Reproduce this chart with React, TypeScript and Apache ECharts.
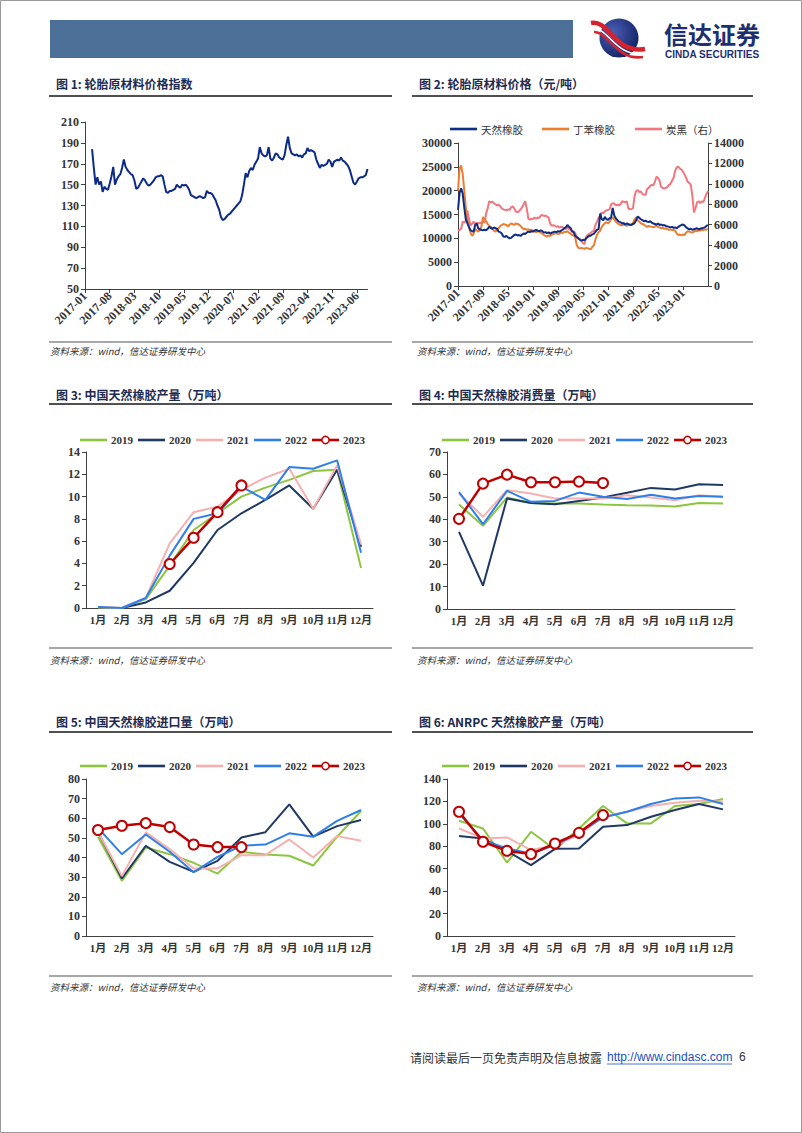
import React, { useEffect, useRef } from "react";
import * as echarts from "echarts";

// ---------- Data ----------
const monthLabels = ["1月", "2月", "3月", "4月", "5月", "6月", "7月", "8月", "9月", "10月", "11月", "12月"];
const years = ["2019", "2020", "2021", "2022", "2023"];
const priceNames = ["天然橡胶", "丁苯橡胶", "炭黑（右）"];

// Chart 1: tyre raw material price index, semi-monthly, from 2017-03 to 2023-09
const tireIndexStartSlot = 4;
const tireIndex = [
  184, 166, 150, 157, 150, 153, 143, 148, 146, 145,
  151, 158, 167, 150, 155, 158, 160, 166, 174, 167,
  164, 162, 160, 159, 154, 146, 147, 150, 153, 156,
  154, 151, 149, 150, 152, 154, 157, 158, 158, 159,
  158, 150, 143, 142, 144, 144, 145, 146, 150, 148,
  147, 150, 149, 150, 148, 145, 140, 139, 138, 137,
  138, 139, 138, 137, 138, 144, 142, 142, 141, 138,
  135, 130, 126, 119, 116, 117, 119, 121, 122, 124,
  126, 128, 130, 132, 134, 140, 150, 161, 157, 163,
  166, 164, 169, 172, 175, 186, 180, 178, 177, 178,
  186, 175, 173, 176, 180, 179, 176, 175, 174, 178,
  188, 196, 185, 180, 179, 178, 179, 177, 178, 176,
  179, 180, 185, 182, 183, 182, 181, 174, 170, 166,
  169, 168, 169, 170, 174, 172, 167, 172, 173, 174,
  173, 176, 173, 172, 170, 168, 164, 158, 152, 150,
  153, 156, 157, 157, 158, 159, 165,
];

// Chart 2: prices (yuan/ton), semi-monthly from 2017-01 to 2023-09
const naturalRubber = [
  16000, 19500, 20500, 19400, 16500, 14000, 13200, 12400, 11700, 11500,
  11400, 12800, 13100, 12100, 11900, 11750, 11700, 11800, 11700, 12000,
  12400, 12200, 12000, 12300, 12100, 12000, 11400, 11300, 11000, 10400,
  10300, 10500, 10200, 10000, 10100, 10400, 10700, 10800, 10600, 10700,
  10500, 10800, 11000, 10900, 11200, 11400, 11300, 11500, 11400, 11600,
  11750, 11600, 11500, 11700, 11500, 11200, 11300, 11100, 11250, 11000,
  11200, 11300, 11400, 11300, 11500, 11400, 11600, 11800, 12100, 12300,
  12800, 12400, 12200, 11500, 11300, 10500, 10300, 10000, 9700, 9500,
  9700, 9600, 10000, 10300, 10500, 10600, 10800, 11000, 11400, 11800,
  12000, 15200, 14000, 13800, 14500, 14000, 13900, 14200, 14400, 16400,
  14800, 14200, 13800, 13500, 13400, 13100, 13200, 12900, 13100, 13000,
  12800, 12900, 13000, 13200, 13800, 14600, 14300, 14000, 13800, 13600,
  13700, 13500, 13400, 13600, 13300, 13100, 13000, 12900, 13100, 12800,
  12900, 12700, 12800, 12600, 12500, 12400, 12300, 12400, 12200, 12300,
  12100, 12400, 12600, 12800, 12900, 12700, 12300, 12100, 11900, 12000,
  11800, 11900, 12000, 12100, 11900, 12000, 12100, 12200, 12300, 12600,
  12800,
];
const styreneButadiene = [
  20000, 24700, 25300, 23500, 20000, 16500, 14000, 12400, 11200, 10500,
  11000, 12000, 11600, 11400, 11800, 12500, 14500, 13900, 13600, 13000,
  12600, 12400, 12000, 11600, 11400, 11800, 12100, 12600, 12800, 13000,
  12900, 12800, 12500, 12900, 13100, 13000, 12800, 13100, 13000, 12900,
  12600, 12200, 11900, 12000, 11800, 11900, 11700, 11800, 11600, 11400,
  11300, 11500, 11400, 11200, 11000, 10700, 10500, 10400, 10600, 10500,
  10800, 10900, 11000, 11100, 10900, 11000, 11200, 11100, 11400, 11300,
  11500, 11200, 11000, 10700, 10600, 10200, 8600, 8000, 7900, 8000,
  7900, 7800, 8000, 7900, 7800, 7700, 8200, 8600, 9800, 10800,
  11300, 11600, 12400, 12800, 13200, 13400, 13100, 13500, 14000, 14400,
  14000, 13500, 13200, 13000, 12800, 12700, 12900, 12800, 12600, 12800,
  12900, 12700, 13200, 14000, 14300, 13800, 13500, 13200, 13000, 12900,
  12600, 12400, 12600, 12500, 12400, 12300, 12500, 12600, 12400, 12300,
  12100, 12200, 12000, 12100, 11900, 11800, 11900, 11700, 11800, 11600,
  11000, 10700, 10800, 10600, 10800, 10700, 11200, 11500, 11400, 11300,
  11200, 11400, 11600, 11500, 11700, 11600, 11800, 11700, 11900, 11800,
  12000,
];
const carbonBlack = [
  5400, 5500, 5600, 6300, 6200, 6400, 7400, 6600, 5900, 6100,
  6300, 6000, 6200, 6100, 6200, 6100, 6300, 6200, 7100, 7600,
  8300, 8200, 8250, 8100, 8000, 7900, 7950, 7800, 7600, 7500,
  7450, 7400, 7500, 7450, 7700, 7800, 7600, 7300, 7250, 7300,
  7500, 7700, 8000, 8300, 7600, 6600, 6500, 6600, 6550, 6700,
  6600, 6700, 6650, 6900, 6950, 6850, 6900, 6800, 6700, 6100,
  5900, 5950, 5900, 5800, 5850, 5700, 5800, 5750, 5650, 5600,
  5700, 5600, 5500, 5300, 5350, 5200, 4700, 4650, 4600, 4400,
  4200, 4100, 4800, 5000, 5100, 5200, 5350, 5400, 6000, 6300,
  6700, 6900, 7200, 7100, 7300, 7400, 7450, 7500, 8000, 8100,
  8050, 7900, 7950, 7900, 8000, 8300, 8250, 8200, 8300, 7600,
  7500, 7550, 7600, 8800, 9300, 9400, 9200, 9250, 9000, 8950,
  8900, 9500, 9600, 9800, 9900, 9850, 10200, 10700, 10600, 10300,
  9700, 9600, 9550, 9600, 9700, 9900, 10000, 10300, 10600, 11300,
  11600, 11700, 11500, 11400, 11200, 10900, 10600, 10200, 10100, 9900,
  8800, 7200, 7600, 8200, 8300, 8100, 8300, 8200, 8600, 9000,
  9300,
];

// Chart 3: China natural rubber production (10k t)
const prod2019 = [0.05, 0, 0.8, 3.8, 7.0, 8.5, 10.0, 10.8, 11.5, 12.3, 12.4, 3.6];
const prod2020 = [null, 0, 0.5, 1.55, 4.05, 7.0, 8.5, 9.7, 11.0, 8.9, 12.4, 5.5];
const prod2021 = [0.1, 0, 0.9, 5.8, 8.6, 9.1, 10.6, 11.7, 12.5, 8.9, 12.8, 5.7];
const prod2022 = [0.1, 0, 0.9, 4.7, 8.0, 8.5, 10.9, 9.7, 12.65, 12.5, 13.25, 4.95];
const prod2023 = [null, null, null, 3.95, 6.3, 8.6, 11.0];

// Chart 4: China natural rubber consumption (10k t)
const cons2019 = [46.6, 37.1, 49.7, 47.3, 47.0, 47.0, 46.6, 46.3, 46.1, 45.7, 47.3, 47.0];
const cons2020 = [34.4, 10.4, 49.3, 47.3, 46.7, 48.2, 49.7, 51.8, 54.0, 53.3, 55.6, 55.3];
const cons2021 = [51.5, 41.1, 53.0, 51.5, 49.3, 49.3, 49.3, 50.7, 49.7, 48.5, 50.7, 50.0];
const cons2022 = [52.1, 37.8, 52.7, 47.8, 48.2, 51.9, 50.0, 49.0, 50.9, 49.3, 50.4, 50.1];
const cons2023 = [40.2, 55.9, 59.9, 56.5, 56.5, 56.8, 56.2];

// Chart 5: China natural rubber imports (10k t)
const imp2019 = [50.6, 28.1, 45.1, 41.7, 37.3, 31.8, 42.9, 41.5, 40.9, 35.9, 50.6, 63.7];
const imp2020 = [53.1, 29.3, 46.0, 37.8, 32.7, 38.3, 50.2, 52.9, 67.1, 50.6, 56.0, 59.1];
const imp2021 = [53.1, 30.5, 52.8, 44.3, 34.4, 34.4, 41.2, 41.2, 49.2, 40.0, 50.9, 48.5];
const imp2022 = [55.1, 41.7, 51.7, 42.9, 32.5, 40.3, 46.0, 46.6, 52.3, 50.6, 58.7, 64.2];
const imp2023 = [54.0, 56.2, 57.5, 55.5, 46.6, 45.3, 45.3];

// Chart 6: ANRPC natural rubber production (10k t)
const anrpc2019 = [102.8, 95.9, 65.5, 92.9, 77.1, 95.9, 115.9, 100.4, 100.4, 115.9, 117.7, 122.1];
const anrpc2020 = [89.1, 87.0, 75.7, 63.2, 77.7, 78.0, 97.4, 98.9, 106.3, 112.3, 117.7, 112.9];
const anrpc2021 = [95.9, 87.0, 87.9, 76.6, 81.0, 90.0, 106.3, 110.8, 115.9, 118.9, 120.6, 119.8];
const anrpc2022 = [109.3, 85.5, 78.0, 73.6, 81.0, 92.0, 105.7, 110.8, 117.7, 122.7, 123.6, 117.7];
const anrpc2023 = [110.8, 84.0, 76.0, 73.0, 82.5, 92.0, 107.8];

const titles = [
  "图 1: 轮胎原材料价格指数",
  "图 2: 轮胎原材料价格（元/吨）",
  "图 3: 中国天然橡胶产量（万吨）",
  "图 4: 中国天然橡胶消费量（万吨）",
  "图 5: 中国天然橡胶进口量（万吨）",
  "图 6: ANRPC 天然橡胶产量（万吨）",
];
const sourceText = "资料来源：wind，信达证券研发中心";

// ---------- Styling ----------
const serif = '"Liberation Serif", "Noto Sans CJK SC", serif';
const cjk = '"Noto Sans CJK SC", sans-serif';
const axisColor = "#404040";
const labelColor = "#333333";
const yearColors = ["#8cc63f", "#1f3864", "#f6b0b0", "#2f7fe8", "#c00000"];
const priceColors = ["#0e2d84", "#ed7d31", "#f3767f"];

// half-month slots from 2017-01-01 to 2023-09-01
const halfMonthSlots: string[] = [];
for (let y = 2017; y <= 2023; y++) {
  for (let m = 1; m <= 12; m++) {
    const mm = m < 10 ? "0" + m : "" + m;
    halfMonthSlots.push(`${y}-${mm}-01`);
    halfMonthSlots.push(`${y}-${mm}-16`);
  }
}
const slots = halfMonthSlots.slice(0, 161);

const tickFont = (size: number) => ({
  fontFamily: serif,
  fontWeight: "bold" as const,
  fontSize: size,
  color: labelColor,
});

function dateAxis(gi: number, every: number, hideLast: boolean) {
  const label: any = {
    interval: every - 1,
    rotate: 45,
    margin: 5,
    formatter: (v: string) => v.slice(0, 7),
    ...tickFont(12),
  };
  if (hideLast) label.showMaxLabel = false;
  return {
    type: "category",
    gridIndex: gi,
    data: slots,
    boundaryGap: false,
    axisLine: { lineStyle: { color: axisColor, width: 1 } },
    axisTick: { interval: every - 1, length: 4, lineStyle: { color: axisColor } },
    axisLabel: label,
  };
}

function valueAxis(gi: number, min: number, max: number, interval: number, size: number, pos?: string) {
  return {
    type: "value",
    gridIndex: gi,
    min,
    max,
    interval,
    position: pos || "left",
    splitLine: { show: false },
    axisLine: { show: true, lineStyle: { color: axisColor, width: 1 } },
    axisTick: { show: true, length: 4, lineStyle: { color: axisColor } },
    axisLabel: { margin: 6, formatter: (v: number) => String(v), ...tickFont(size) },
  };
}

function monthAxis(gi: number) {
  return {
    type: "category",
    gridIndex: gi,
    data: monthLabels,
    boundaryGap: true,
    axisLine: { lineStyle: { color: axisColor, width: 1 } },
    axisTick: { length: 4, lineStyle: { color: axisColor } },
    axisLabel: { interval: 0, margin: 6, ...tickFont(11) },
  };
}

function yearLines(xi: number, yi: number, sets: (number | null)[][]) {
  return sets.map((d, i) => ({
    type: "line",
    name: years[i],
    xAxisIndex: xi,
    yAxisIndex: yi,
    data: d,
    symbol: i === 4 ? "emptyCircle" : "none",
    showSymbol: i === 4,
    symbolSize: 10,
    lineStyle: { color: yearColors[i], width: i === 4 ? 2.5 : 2 },
    itemStyle: { color: yearColors[i], borderWidth: 1.5 },
    z: 2 + i,
  }));
}

function txt(text: string, x: number, y: number, font: string, fill: string, extra: any = {}) {
  return {
    type: "text",
    x,
    y,
    silent: true,
    style: {
      text,
      font,
      fill,
      textAlign: "left",
      align: "left",
      textVerticalAlign: "middle",
      verticalAlign: "middle",
      ...extra,
    },
  };
}

function hline(x1: number, x2: number, y: number, color: string, w: number) {
  return {
    type: "line",
    silent: true,
    shape: { x1, y1: y, x2, y2: y },
    style: { stroke: color, lineWidth: w },
  };
}

function legendItem(x: number, y: number, color: string, label: string, circle: boolean, font: string) {
  const els: any[] = [
    {
      type: "line",
      silent: true,
      shape: { x1: x, y1: y, x2: x + 27, y2: y },
      style: { stroke: color, lineWidth: 2.6 },
    },
  ];
  if (circle) {
    els.push({
      type: "circle",
      silent: true,
      shape: { cx: x + 13.5, cy: y, r: 3.6 },
      style: { fill: "#ffffff", stroke: color, lineWidth: 1.5 },
    });
  }
  els.push(txt(label, x + 31, y, font, labelColor));
  return els;
}

function yearLegend(x0: number, y: number) {
  const out: any[] = [];
  years.forEach((yr, i) => {
    out.push(...legendItem(x0 + i * 58, y, yearColors[i], yr, i === 4, `bold 11px ${serif}`));
  });
  return out;
}

const leftX = 56;
const rightX = 419;
const titleRows = [83, 394, 721];
const topLines = [96, 404, 732];
const bottomLines = [342, 648, 976];
const sourceRows = [351, 660, 987];

const graphics: any[] = [
  {
    type: "rect",
    silent: true,
    shape: { x: 0.5, y: 0.5, width: 801, height: 1132 },
    style: { fill: "none", stroke: "#9a9a9a", lineWidth: 1 },
  },
  {
    type: "rect",
    silent: true,
    shape: { x: 50, y: 20, width: 523, height: 38 },
    style: { fill: "#4b6f97" },
  },
  // logo emblem
  {
    type: "circle",
    silent: true,
    shape: { cx: 619, cy: 38, r: 19.5 },
    style: {
      fill: new echarts.graphic.RadialGradient(0.35, 0.35, 0.8, [
        { offset: 0, color: "#4a5fb5" },
        { offset: 1, color: "#0c1a5c" },
      ]),
    },
  },
  {
    type: "bezierCurve",
    silent: true,
    shape: { x1: 591, y1: 23, cpx1: 609, cpy1: 19, cpx2: 614, cpy2: 54, x2: 645, y2: 49 },
    style: { stroke: "#d8232f", lineWidth: 4.5, fill: "none" },
  },
  {
    type: "bezierCurve",
    silent: true,
    shape: { x1: 592, y1: 28.5, cpx1: 608, cpy1: 26, cpx2: 615, cpy2: 58, x2: 645, y2: 53.5 },
    style: { stroke: "#ffffff", lineWidth: 1.5, fill: "none" },
  },
  {
    type: "bezierCurve",
    silent: true,
    shape: { x1: 594, y1: 32, cpx1: 608, cpy1: 31, cpx2: 616, cpy2: 61, x2: 643, y2: 57 },
    style: { stroke: "#d8232f", lineWidth: 2.6, fill: "none" },
  },
  txt("信达证券", 664, 33, `bold 24px ${cjk}`, "#1d2f6f"),
  txt("CINDA SECURITIES", 665, 54.5, `bold 10px "Liberation Sans", Arial, sans-serif`, "#1d2f6f"),
  // footer
  txt("请阅读最后一页免责声明及信息披露", 410, 1057, `12px ${cjk}`, "#333333"),
  txt("http://www.cindasc.com", 607, 1057, `12px "Liberation Sans", Arial, sans-serif`, "#1a4fc0"),
  hline(607, 732, 1064, "#1a4fc0", 0.8),
  txt("6", 739, 1057, `12px "Liberation Sans", Arial, sans-serif`, "#333333"),
];

titleRows.forEach((y, r) => {
  graphics.push(txt(titles[r * 2], leftX, y, `bold 12px ${cjk}`, "#1e2b4f"));
  graphics.push(txt(titles[r * 2 + 1], rightX, y, `bold 12px ${cjk}`, "#1e2b4f"));
});
topLines.forEach((y) => {
  graphics.push(hline(49, 392, y, "#505050", 2));
  graphics.push(hline(412, 753, y, "#505050", 2));
});
bottomLines.forEach((y) => {
  graphics.push(hline(49, 392, y, "#8a8a8a", 1.5));
  graphics.push(hline(412, 753, y, "#8a8a8a", 1.5));
});
sourceRows.forEach((y) => {
  graphics.push(txt(sourceText, 50, y, `italic 9.5px ${cjk}`, "#333333"));
  graphics.push(txt(sourceText, 417, y, `italic 9.5px ${cjk}`, "#333333"));
});

// chart 2 legend
const priceLegendX = [450, 542, 635];
priceNames.forEach((n, i) => {
  graphics.push(...legendItem(priceLegendX[i], 129, priceColors[i], n, false, `10.5px ${cjk}`));
});
// year legends
graphics.push(...yearLegend(80, 440));
graphics.push(...yearLegend(442, 440));
graphics.push(...yearLegend(80, 766));
graphics.push(...yearLegend(442, 766));

const tireData = (Array(tireIndexStartSlot).fill(null) as (number | null)[]).concat(tireIndex);

const option: any = {
  animation: false,
  backgroundColor: "#ffffff",
  graphic: { elements: graphics },
  grid: [
    { left: 85, top: 122, width: 282.5, height: 167 },
    { left: 458, top: 143, width: 250, height: 143 },
    { left: 86, top: 452, width: 287, height: 156 },
    { left: 447, top: 452, width: 288, height: 157 },
    { left: 86, top: 779, width: 287, height: 157 },
    { left: 447, top: 779, width: 288, height: 157 },
  ],
  xAxis: [dateAxis(0, 14, false), dateAxis(1, 16, true), monthAxis(2), monthAxis(3), monthAxis(4), monthAxis(5)],
  yAxis: [
    valueAxis(0, 50, 210, 20, 12),
    valueAxis(1, 0, 30000, 5000, 12),
    valueAxis(1, 0, 14000, 2000, 12, "right"),
    valueAxis(2, 0, 14, 2, 12),
    valueAxis(3, 0, 70, 10, 12),
    valueAxis(4, 0, 80, 10, 12),
    valueAxis(5, 0, 140, 20, 12),
  ],
  series: [
    {
      type: "line",
      name: "轮胎原材料价格指数",
      xAxisIndex: 0,
      yAxisIndex: 0,
      data: tireData,
      symbol: "none",
      lineStyle: { color: "#0c2b86", width: 2 },
      itemStyle: { color: "#0c2b86" },
    },
    {
      type: "line",
      name: priceNames[0],
      xAxisIndex: 1,
      yAxisIndex: 1,
      data: naturalRubber,
      symbol: "none",
      lineStyle: { color: priceColors[0], width: 2 },
      itemStyle: { color: priceColors[0] },
      z: 4,
    },
    {
      type: "line",
      name: priceNames[1],
      xAxisIndex: 1,
      yAxisIndex: 1,
      data: styreneButadiene,
      symbol: "none",
      lineStyle: { color: priceColors[1], width: 2 },
      itemStyle: { color: priceColors[1] },
      z: 3,
    },
    {
      type: "line",
      name: priceNames[2],
      xAxisIndex: 1,
      yAxisIndex: 2,
      data: carbonBlack,
      symbol: "none",
      lineStyle: { color: priceColors[2], width: 2 },
      itemStyle: { color: priceColors[2] },
      z: 2,
    },
    ...yearLines(2, 3, [prod2019, prod2020, prod2021, prod2022, prod2023]),
    ...yearLines(3, 4, [cons2019, cons2020, cons2021, cons2022, cons2023]),
    ...yearLines(4, 5, [imp2019, imp2020, imp2021, imp2022, imp2023]),
    ...yearLines(5, 6, [anrpc2019, anrpc2020, anrpc2021, anrpc2022, anrpc2023]),
  ],
};

export default function App() {
  const ref = useRef<HTMLDivElement>(null);
  useEffect(() => {
    const el = ref.current;
    if (!el) return;
    const chart = echarts.init(el, null, { renderer: "svg", width: 802, height: 1133 });
    chart.setOption(option);
    return () => chart.dispose();
  }, []);
  return (
    <div
      ref={ref}
      style={{ position: "absolute", left: 0, top: 0, width: 802, height: 1133, background: "#ffffff" }}
    />
  );
}
